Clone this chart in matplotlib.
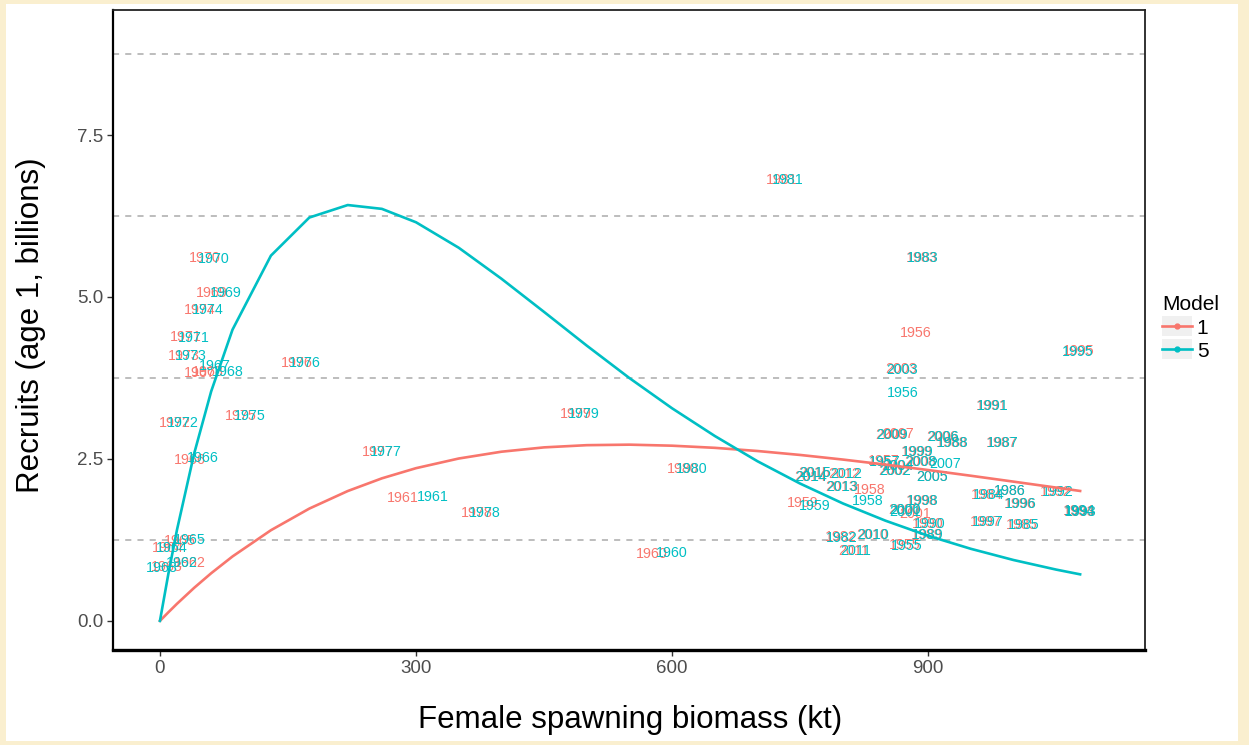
import numpy as np
import matplotlib.pyplot as plt
from matplotlib.lines import Line2D
from matplotlib.patches import Rectangle
from matplotlib.legend_handler import HandlerLine2D
from matplotlib.ticker import FixedLocator

plt.rcParams['font.family'] = ['Liberation Sans', 'DejaVu Sans']

# stock-recruit points, one label per year and model
years = [1955, 1956, 1957, 1958, 1959, 1960, 1961, 1962, 1963, 1964,
         1965, 1966, 1967, 1968, 1969, 1970, 1971, 1972, 1973, 1974,
         1975, 1976, 1977, 1978, 1979, 1980, 1981, 1982, 1983, 1984,
         1985, 1986, 1987, 1988, 1989, 1990, 1991, 1992, 1993, 1994,
         1995, 1996, 1997, 1998, 1999, 2000, 2001, 2002, 2003, 2004,
         2005, 2006, 2007, 2008, 2009, 2010, 2011, 2012, 2013, 2014, 2015]

ssb_m1 = [872, 886, 848, 832, 753.5, 576.6, 284.8, 35.2, 8.2, 9.4,
          23.4, 35.2, 47, 56.3, 60.9, 52.7, 30.5, 17.6, 28.1, 46.9,
          94.9, 160.6, 255.5, 371.5, 487.5, 612.9, 728.9, 797, 892, 969,
          1010, 995, 986, 927, 898, 900, 975, 1050, 1077, 1076,
          1075.8, 1007, 968, 892, 886, 872, 884.8, 860, 868.4, 864,
          904, 916, 864.9, 890, 856, 834, 813, 802, 798, 762, 766]
rec_m1 = [1.17, 4.44, 2.46, 2.02, 1.82, 1.03, 1.90, 0.90, 0.83, 1.13,
          1.23, 2.48, 3.82, 3.84, 5.06, 5.60, 4.38, 3.06, 4.09, 4.80,
          3.16, 3.98, 2.61, 1.67, 3.19, 2.35, 6.81, 1.29, 5.60, 1.94,
          1.48, 2.01, 2.75, 2.75, 1.33, 1.50, 3.32, 1.99, 1.68, 1.69,
          4.17, 1.81, 1.53, 1.85, 2.61, 1.71, 1.65, 2.31, 3.89, 2.39,
          2.22, 2.84, 2.89, 2.45, 2.87, 1.33, 1.08, 2.27, 2.07, 2.22, 2.28]

ssb_m5 = [874.3, 870.7, 849.6, 829.7, 767.6, 600.0, 319.9, 25.8, 2.3, 14.1,
          35.2, 50.4, 64, 79.7, 77.3, 63.3, 39.8, 27.0, 36.3, 56.3,
          105.5, 169.9, 264.9, 380.9, 496.9, 623.5, 736.0, 799.2, 894.2, 970.3,
          1011.4, 996.1, 986.8, 928.2, 898.9, 901.2, 976.2, 1051.2, 1078.2, 1077.5,
          1074.6, 1007.9, 969.2, 893.0, 887.2, 873.1, 873, 861.4, 869.6, 864.9,
          904.7, 917.6, 920.0, 891.8, 857.8, 835.6, 814.5, 803.9, 799.2, 762.9, 767.6]
rec_m5 = [1.16, 3.52, 2.45, 1.85, 1.77, 1.05, 1.91, 0.90, 0.82, 1.13,
          1.25, 2.52, 3.93, 3.84, 5.06, 5.59, 4.37, 3.06, 4.09, 4.80,
          3.16, 3.98, 2.61, 1.67, 3.19, 2.35, 6.81, 1.28, 5.60, 1.94,
          1.48, 2.01, 2.75, 2.75, 1.33, 1.50, 3.32, 1.99, 1.68, 1.69,
          4.15, 1.81, 1.53, 1.85, 2.61, 1.71, 1.68, 2.31, 3.87, 2.39,
          2.22, 2.84, 2.42, 2.45, 2.87, 1.33, 1.08, 2.27, 2.07, 2.22, 2.28]

# fitted stock-recruit curves
curve_ssb = [0, 10, 20, 40, 60, 85, 130, 175, 220, 260, 300, 350, 400, 450,
             500, 550, 600, 650, 700, 750, 800, 850, 900, 950, 1000, 1050, 1078]
curve_m1 = [0, 0.134, 0.264, 0.509, 0.735, 0.994, 1.399, 1.733, 2.004, 2.200,
            2.357, 2.506, 2.611, 2.678, 2.712, 2.720, 2.704, 2.671, 2.622, 2.561,
            2.490, 2.412, 2.328, 2.240, 2.149, 2.057, 2.005]
curve_m5 = [0, 0.736, 1.408, 2.579, 3.542, 4.495, 5.638, 6.226, 6.419, 6.360,
            6.153, 5.760, 5.282, 4.769, 4.249, 3.748, 3.281, 2.854, 2.464, 2.119,
            1.813, 1.546, 1.313, 1.112, 0.939, 0.791, 0.718]

RED = '#F8766D'
TEAL = '#00BFC4'


class KeyWithBg(HandlerLine2D):
    def create_artists(self, legend, orig_handle, xdescent, ydescent,
                       width, height, fontsize, trans):
        bg = Rectangle((-xdescent, -ydescent - 2), width, height + 4,
                       facecolor='#F0F0F0', edgecolor='none', transform=trans)
        arts = super().create_artists(legend, orig_handle, xdescent, ydescent,
                                      width, height, fontsize, trans)
        return [bg] + list(arts)


fig = plt.figure(figsize=(12.49, 7.45), dpi=100)
fig.patch.set_facecolor('#FAEFCF')
fig.patches.append(Rectangle((6 / 1249, 4 / 745), 1232 / 1249, 737 / 745,
                             transform=fig.transFigure, facecolor='white',
                             edgecolor='none', zorder=-10))

ax = fig.add_axes([113 / 1249, 1 - 650 / 745, 1032 / 1249, 640 / 745])
ax.set_facecolor('white')

for s, r, y in zip(ssb_m1, rec_m1, years):
    ax.text(s, r, str(y), color=RED, fontsize=10.3, ha='center', va='center', zorder=2)
for s, r, y in zip(ssb_m5, rec_m5, years):
    ax.text(s, r, str(y), color=TEAL, fontsize=10.3, ha='center', va='center', zorder=2)

ax.plot(curve_ssb, curve_m1, color=RED, lw=1.9, zorder=3)
ax.plot(curve_ssb, curve_m5, color=TEAL, lw=1.9, zorder=3)

ax.set_xlim(-55, 1154)
ax.set_ylim(-0.45, 9.43)
ax.set_xticks([0, 300, 600, 900])
ax.set_yticks([0, 2.5, 5.0, 7.5])
ax.set_yticklabels(['0.0', '2.5', '5.0', '7.5'])
ax.yaxis.set_minor_locator(FixedLocator([1.25, 3.75, 6.25, 8.75]))
ax.grid(which='minor', axis='y', color='#ABABAB', lw=1.1, ls=(0, (4, 4)))
ax.tick_params(which='minor', length=0)
ax.tick_params(which='major', length=4, width=1, color='#333333',
               labelsize=13.5, labelcolor='#4D4D4D', pad=3)

for side in ['top', 'right']:
    ax.spines[side].set_linewidth(1.3)
    ax.spines[side].set_color('#222222')
ax.spines['bottom'].set_linewidth(2.4)
ax.spines['left'].set_linewidth(1.6)
ax.spines['bottom'].set_color('black')
ax.spines['left'].set_color('black')

fig.text(630 / 1249, 1 - 720 / 745, 'Female spawning biomass (kt)',
         fontsize=22.5, ha='center', va='center')
fig.text(31 / 1249, 1 - 325 / 745, 'Recruits (age 1, billions)',
         fontsize=22.5, ha='center', va='center', rotation=90)

handles = [Line2D([], [], color=RED, lw=1.9, marker='o', markersize=3.5),
           Line2D([], [], color=TEAL, lw=1.9, marker='o', markersize=3.5)]
leg = fig.legend(handles, ['1', '5'], title='Model', loc='center left',
                 bbox_to_anchor=(1152 / 1249, 1 - 328 / 745),
                 bbox_transform=fig.transFigure, frameon=False,
                 fontsize=15, title_fontsize=15, handlelength=1.4,
                 handletextpad=0.25, labelspacing=0.2, borderpad=0,
                 alignment='left', handler_map={Line2D: KeyWithBg()})

fig.savefig('out.png', dpi=100, facecolor=fig.get_facecolor())
